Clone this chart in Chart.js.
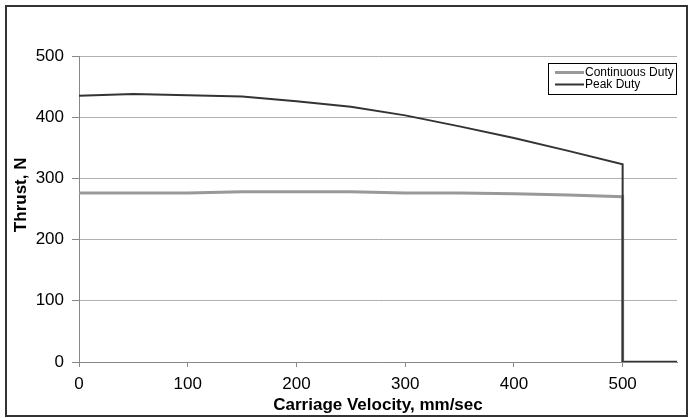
<!DOCTYPE html>
<html>
<head>
<meta charset="utf-8">
<script src="https://cdn.jsdelivr.net/npm/chart.js@4.4.1/dist/chart.umd.min.js"></script>
<style>
  html, body { margin: 0; padding: 0; background: #fff; }
  #wrap { width: 689px; height: 418px; position: relative; }
</style>
</head>
<body>
<div id="wrap"><canvas id="thrust-chart"></canvas></div>
<script>
// values (velocity in mm/sec, thrust in N)
var velocity = [0, 50, 100, 150, 200, 250, 300, 350, 400, 450, 500, 500, 550];
var continuousThrust = [276, 276, 276, 278, 278, 278, 276, 276, 275, 273, 270, 0, 0];
var peakThrust = [435, 438, 436, 434, 426, 417, 403, 385, 366, 345, 323, 0, 0];
var seriesNames = ["Continuous Duty", "Peak Duty"];
var seriesColors = ["#999999", "#333333"];
var xTickValues = [0, 100, 200, 300, 400, 500];

var FONT = "'Liberation Sans', Arial, sans-serif";

function toPoints(ys){
  return ys.map(function(y, i){ return {x: velocity[i], y: y}; });
}

// outer frame round the whole chart
var framePlugin = {
  id: "frame",
  afterDraw: function(chart){
    var ctx = chart.ctx;
    ctx.save();
    ctx.strokeStyle = "#333";
    ctx.lineWidth = 2;
    ctx.strokeRect(6, 6, 681, 410);
    ctx.restore();
  }
};

// boxed legend, top right of the plot
var boxLegend = {
  id: "boxLegend",
  afterDraw: function(chart){
    var ctx = chart.ctx;
    var a = chart.chartArea;
    var w = 129, h = 32;
    var x = a.right - w, y = 63;
    ctx.save();
    ctx.fillStyle = "#fff";
    ctx.fillRect(x, y, w, h);
    ctx.strokeStyle = "#000";
    ctx.lineWidth = 1;
    ctx.strokeRect(x + 0.5, y + 0.5, w - 1, h - 1);
    ctx.font = "12px " + FONT;
    ctx.textBaseline = "middle";
    chart.data.datasets.forEach(function(ds, i){
      var ly = y + 9.5 + i * 12;
      ctx.strokeStyle = ds.borderColor;
      ctx.lineWidth = ds.borderWidth;
      ctx.beginPath();
      ctx.moveTo(x + 7, ly);
      ctx.lineTo(x + 36, ly);
      ctx.stroke();
      ctx.fillStyle = "#000";
      ctx.fillText(ds.label, x + 37, ly + 0.5);
    });
    ctx.restore();
  }
};

var ctx = document.getElementById("thrust-chart");
new Chart(ctx, {
  type: "line",
  data: {
    datasets: [{
      label: seriesNames[0],
      data: toPoints(continuousThrust),
      borderColor: seriesColors[0],
      borderWidth: 3,
      pointRadius: 0,
      tension: 0,
      fill: false,
      order: 1
    },{
      label: seriesNames[1],
      data: toPoints(peakThrust),
      borderColor: seriesColors[1],
      borderWidth: 2,
      pointRadius: 0,
      tension: 0,
      fill: false,
      order: 0
    }]
  },
  options: {
    responsive: true,
    maintainAspectRatio: false,
    animation: false,
    events: [],
    layout: { padding: { top: 56, right: 12, bottom: 0, left: 0 } },
    plugins: { legend: { display: false }, tooltip: { enabled: false } },
    scales: {
      x: {
        type: "linear",
        min: 0,
        max: 550,
        afterBuildTicks: function(scale){
          scale.ticks = xTickValues.map(function(v){ return {value: v}; });
        },
        afterFit: function(scale){ scale.height = 56; },
        grid: { drawOnChartArea: false, tickLength: 5, tickColor: "#888", lineWidth: 1 },
        border: { color: "#888", width: 1 },
        ticks: {
          color: "#000",
          padding: 7,
          maxRotation: 0,
          font: { family: FONT, size: 17 }
        },
        title: {
          display: true,
          text: "Carriage Velocity, mm/sec",
          color: "#000",
          padding: { top: 0, bottom: 2 },
          font: { family: FONT, size: 17, weight: "bold" }
        }
      },
      y: {
        min: 0,
        max: 500,
        afterFit: function(scale){ scale.width = 79; },
        grid: { color: "#b0b0b0", tickColor: "#888", tickLength: 7, lineWidth: 1 },
        border: { color: "#888", width: 1 },
        ticks: {
          stepSize: 100,
          color: "#000",
          padding: 8,
          font: { family: FONT, size: 17 }
        },
        title: {
          display: true,
          text: "      Thrust, N",
          color: "#000",
          padding: { top: 11, bottom: 0 },
          font: { family: FONT, size: 17, weight: "bold" }
        }
      }
    }
  },
  plugins: [framePlugin, boxLegend]
});
</script>
</body>
</html>
